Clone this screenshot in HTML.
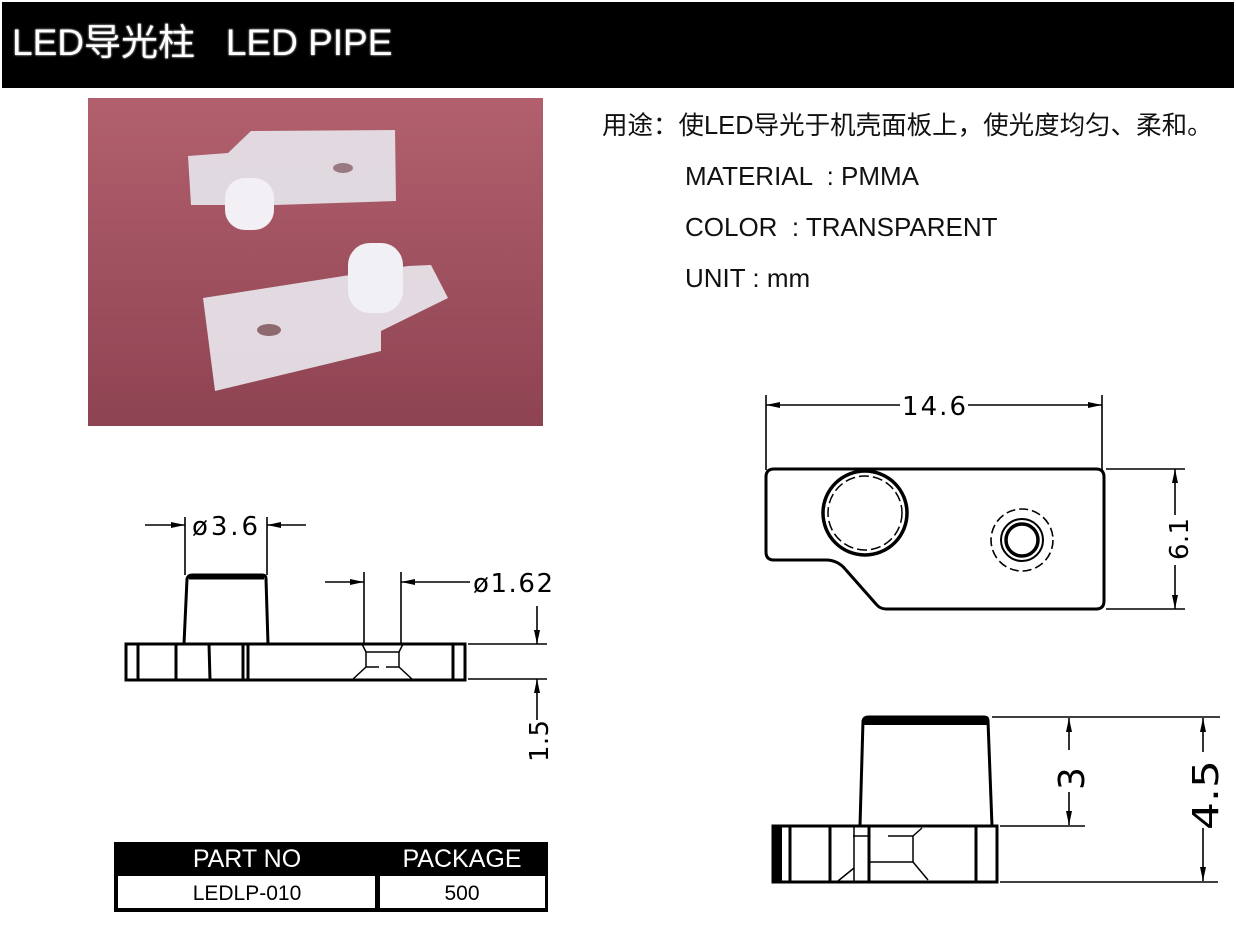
<!DOCTYPE html>
<html><head><meta charset="utf-8"><style>
html,body{margin:0;padding:0;background:#fff;}
body{width:1236px;height:926px;position:relative;overflow:hidden;font-family:"Liberation Sans","Noto Sans CJK SC",sans-serif;}
.hdr{position:absolute;left:2px;top:2px;width:1232px;height:86px;background:#000;}
.hdr span{position:absolute;left:10px;top:10px;font-size:37px;color:#fff;text-shadow:0 0 2px #888,0 0 2px #888,0 0 1px #888;white-space:pre;font-family:"Liberation Sans","Noto Sans CJK SC",sans-serif;}
.t{position:absolute;font-size:26px;color:#111;white-space:nowrap;}
</style></head><body>
<div class="hdr"><span>LED导光柱   LED PIPE</span></div>
<div class="t" style="left:602px;top:105px;font-size:25.5px;">用途：使LED导光于机壳面板上，使光度均匀、柔和。</div>
<div class="t" style="left:685px;top:161px;">MATERIAL &nbsp;: PMMA</div>
<div class="t" style="left:685px;top:212px;">COLOR &nbsp;: TRANSPARENT</div>
<div class="t" style="left:685px;top:263px;">UNIT : mm</div>
<svg width="1236" height="926" style="position:absolute;left:0;top:0" xmlns="http://www.w3.org/2000/svg">
<defs>
<linearGradient id="bg" x1="0" y1="0" x2="0" y2="1"><stop offset="0" stop-color="#b2606d"/><stop offset="1" stop-color="#8e4352"/></linearGradient>
<marker id="a" viewBox="0 0 14 6" refX="14" refY="3" markerWidth="14" markerHeight="6" orient="auto-start-reverse" markerUnits="userSpaceOnUse"><path d="M0,0L14,3L0,6z" fill="#000"/></marker>
</defs>
<rect x="88" y="98" width="455" height="328" fill="url(#bg)"/>
<polygon points="188,156 228,153 251,131 395,130 396,201 275,205 191,205" fill="#e6e4ea" opacity="0.92"/>
<rect x="225" y="178" width="49" height="52" rx="20" fill="#f2f0f4"/>
<ellipse cx="343" cy="168" rx="10" ry="5" fill="#9a7a80"/>
<polygon points="203,298 408,266 431,265 448,298 381,331 381,351 215,391" fill="#e8e6ec" opacity="0.92"/>
<rect x="348" y="243" width="55" height="70" rx="22" fill="#f1f0f4"/>
<ellipse cx="269" cy="330" rx="12" ry="6" fill="#8d6a70"/>
<g fill="none" stroke="#000" stroke-width="3">
<path d="M184,644 L187,579 Q188,575 192,575 L262,575 Q266,575 266,579 L268,644"/>
<line x1="189" y1="578" x2="264" y2="578" stroke-width="3"/>
<rect x="126" y="644" width="339" height="36"/>
<line x1="138" y1="644" x2="138" y2="680"/><line x1="176" y1="644" x2="176" y2="680"/><line x1="209" y1="644" x2="210" y2="680"/><line x1="243" y1="644" x2="243" y2="680"/><line x1="248" y1="644" x2="248" y2="680"/><line x1="453" y1="644" x2="453" y2="680"/>
<path d="M362,644 L366,652 L399,652 L403,644" stroke-width="1.5"/>
<path d="M366,652 L366,667 M399,652 L399,667 M366,667 L379,667 M386,667 L399,667 M366,667 L352,680 M399,667 L413,680" stroke-width="1.5"/>
<g stroke-width="1.6">
<line x1="185" y1="517" x2="185" y2="575"/><line x1="267" y1="517" x2="267" y2="575"/>
<line x1="145" y1="525" x2="185" y2="525" marker-end="url(#a)"/><line x1="306" y1="525" x2="267" y2="525" marker-end="url(#a)"/>
<line x1="364" y1="572" x2="364" y2="645"/><line x1="401" y1="572" x2="401" y2="645"/>
<line x1="325" y1="582" x2="364" y2="582" marker-end="url(#a)"/><line x1="470" y1="582" x2="401" y2="582" marker-end="url(#a)"/>
<line x1="468" y1="644" x2="547" y2="644"/><line x1="468" y1="679" x2="547" y2="679"/>
<line x1="537" y1="606" x2="537" y2="644" marker-end="url(#a)"/><line x1="537" y1="720" x2="537" y2="679" marker-end="url(#a)"/>
</g>
<path d="M774,469 L1096,469 Q1104,469 1104,477 L1104,601 Q1104,609 1096,609 L886,609 Q880,609 876,604 L846,570 Q838,560 826,560 L774,560 Q766,560 766,552 L766,477 Q766,469 774,469 Z"/>
<circle cx="865" cy="513" r="42" stroke-width="3.5"/>
<circle cx="865" cy="513" r="37" stroke-width="1.5" stroke-dasharray="10,4"/>
<circle cx="1022" cy="540" r="16" stroke-width="3.5"/>
<circle cx="1022" cy="540" r="21" stroke-width="2"/>
<circle cx="1022" cy="540" r="31" stroke-width="1.6" stroke-dasharray="9,4"/>
<g stroke-width="1.6">
<line x1="766" y1="395" x2="766" y2="470"/><line x1="1102" y1="395" x2="1102" y2="470"/>
<line x1="900" y1="405" x2="766" y2="405" marker-end="url(#a)"/><line x1="968" y1="405" x2="1102" y2="405" marker-end="url(#a)"/>
<line x1="1106" y1="469" x2="1185" y2="469"/><line x1="1106" y1="609" x2="1185" y2="609"/>
<line x1="1175" y1="515" x2="1175" y2="469" marker-end="url(#a)"/><line x1="1175" y1="565" x2="1175" y2="609" marker-end="url(#a)"/>
</g>
<path d="M860,826 L863,721 Q864,717 868,717 L984,717 Q988,717 988,721 L992,826"/>
<rect x="864" y="718" width="123" height="7" fill="#000" stroke="none"/>
<rect x="773" y="826" width="224" height="56"/>
<rect x="773" y="826" width="9" height="56" fill="#000" stroke="none"/>
<line x1="790" y1="826" x2="790" y2="882"/><line x1="830" y1="826" x2="830" y2="882"/><line x1="854" y1="826" x2="854" y2="882" stroke-width="1.5"/><line x1="869" y1="826" x2="869" y2="882"/><line x1="976" y1="826" x2="976" y2="882"/>
<path d="M853,836 L868,836 M888,836 L913,836 L913,862 L869,862 M913,836 L922,828 M913,862 L928,880 M854,868 L838,881" stroke-width="1.5"/>
<g stroke-width="1.6">
<line x1="992" y1="717" x2="1220" y2="717"/><line x1="1000" y1="826" x2="1085" y2="826"/><line x1="1000" y1="882" x2="1218" y2="882"/>
<line x1="1069" y1="750" x2="1069" y2="718" marker-end="url(#a)"/><line x1="1069" y1="792" x2="1069" y2="825" marker-end="url(#a)"/>
<line x1="1203" y1="752" x2="1203" y2="718" marker-end="url(#a)"/><line x1="1203" y1="828" x2="1203" y2="881" marker-end="url(#a)"/>
</g>
</g>
<g font-family="DejaVu Sans,Liberation Sans,sans-serif" font-size="26" fill="#000" stroke="none">
<text x="192" y="535" textLength="66">ø3.6</text>
<text x="473" y="592" textLength="80">ø1.62</text>
<text x="902" y="415" textLength="64">14.6</text>
<text transform="translate(548,762) rotate(-90)" textLength="42">1.5</text>
<text transform="translate(1188,560) rotate(-90)" textLength="42">6.1</text>
<text transform="translate(1084,790) rotate(-90)" font-size="36">3</text>
<text transform="translate(1218,830) rotate(-90)" font-size="36" textLength="70" lengthAdjust="spacingAndGlyphs">4.5</text>
</g>
<rect x="114" y="842" width="434" height="70" fill="#000"/>
<rect x="118" y="876" width="257" height="32" fill="#fff"/>
<rect x="380" y="876" width="165" height="32" fill="#fff"/>
<g font-family="Liberation Sans,sans-serif" text-anchor="middle">
<text x="247" y="867" font-size="25" fill="#fff">PART NO</text>
<text x="462" y="867" font-size="25" fill="#fff">PACKAGE</text>
<text x="247" y="900" font-size="21" fill="#000">LEDLP-010</text>
<text x="462" y="900" font-size="21" fill="#000">500</text>
</g>
</svg>
</body></html>
